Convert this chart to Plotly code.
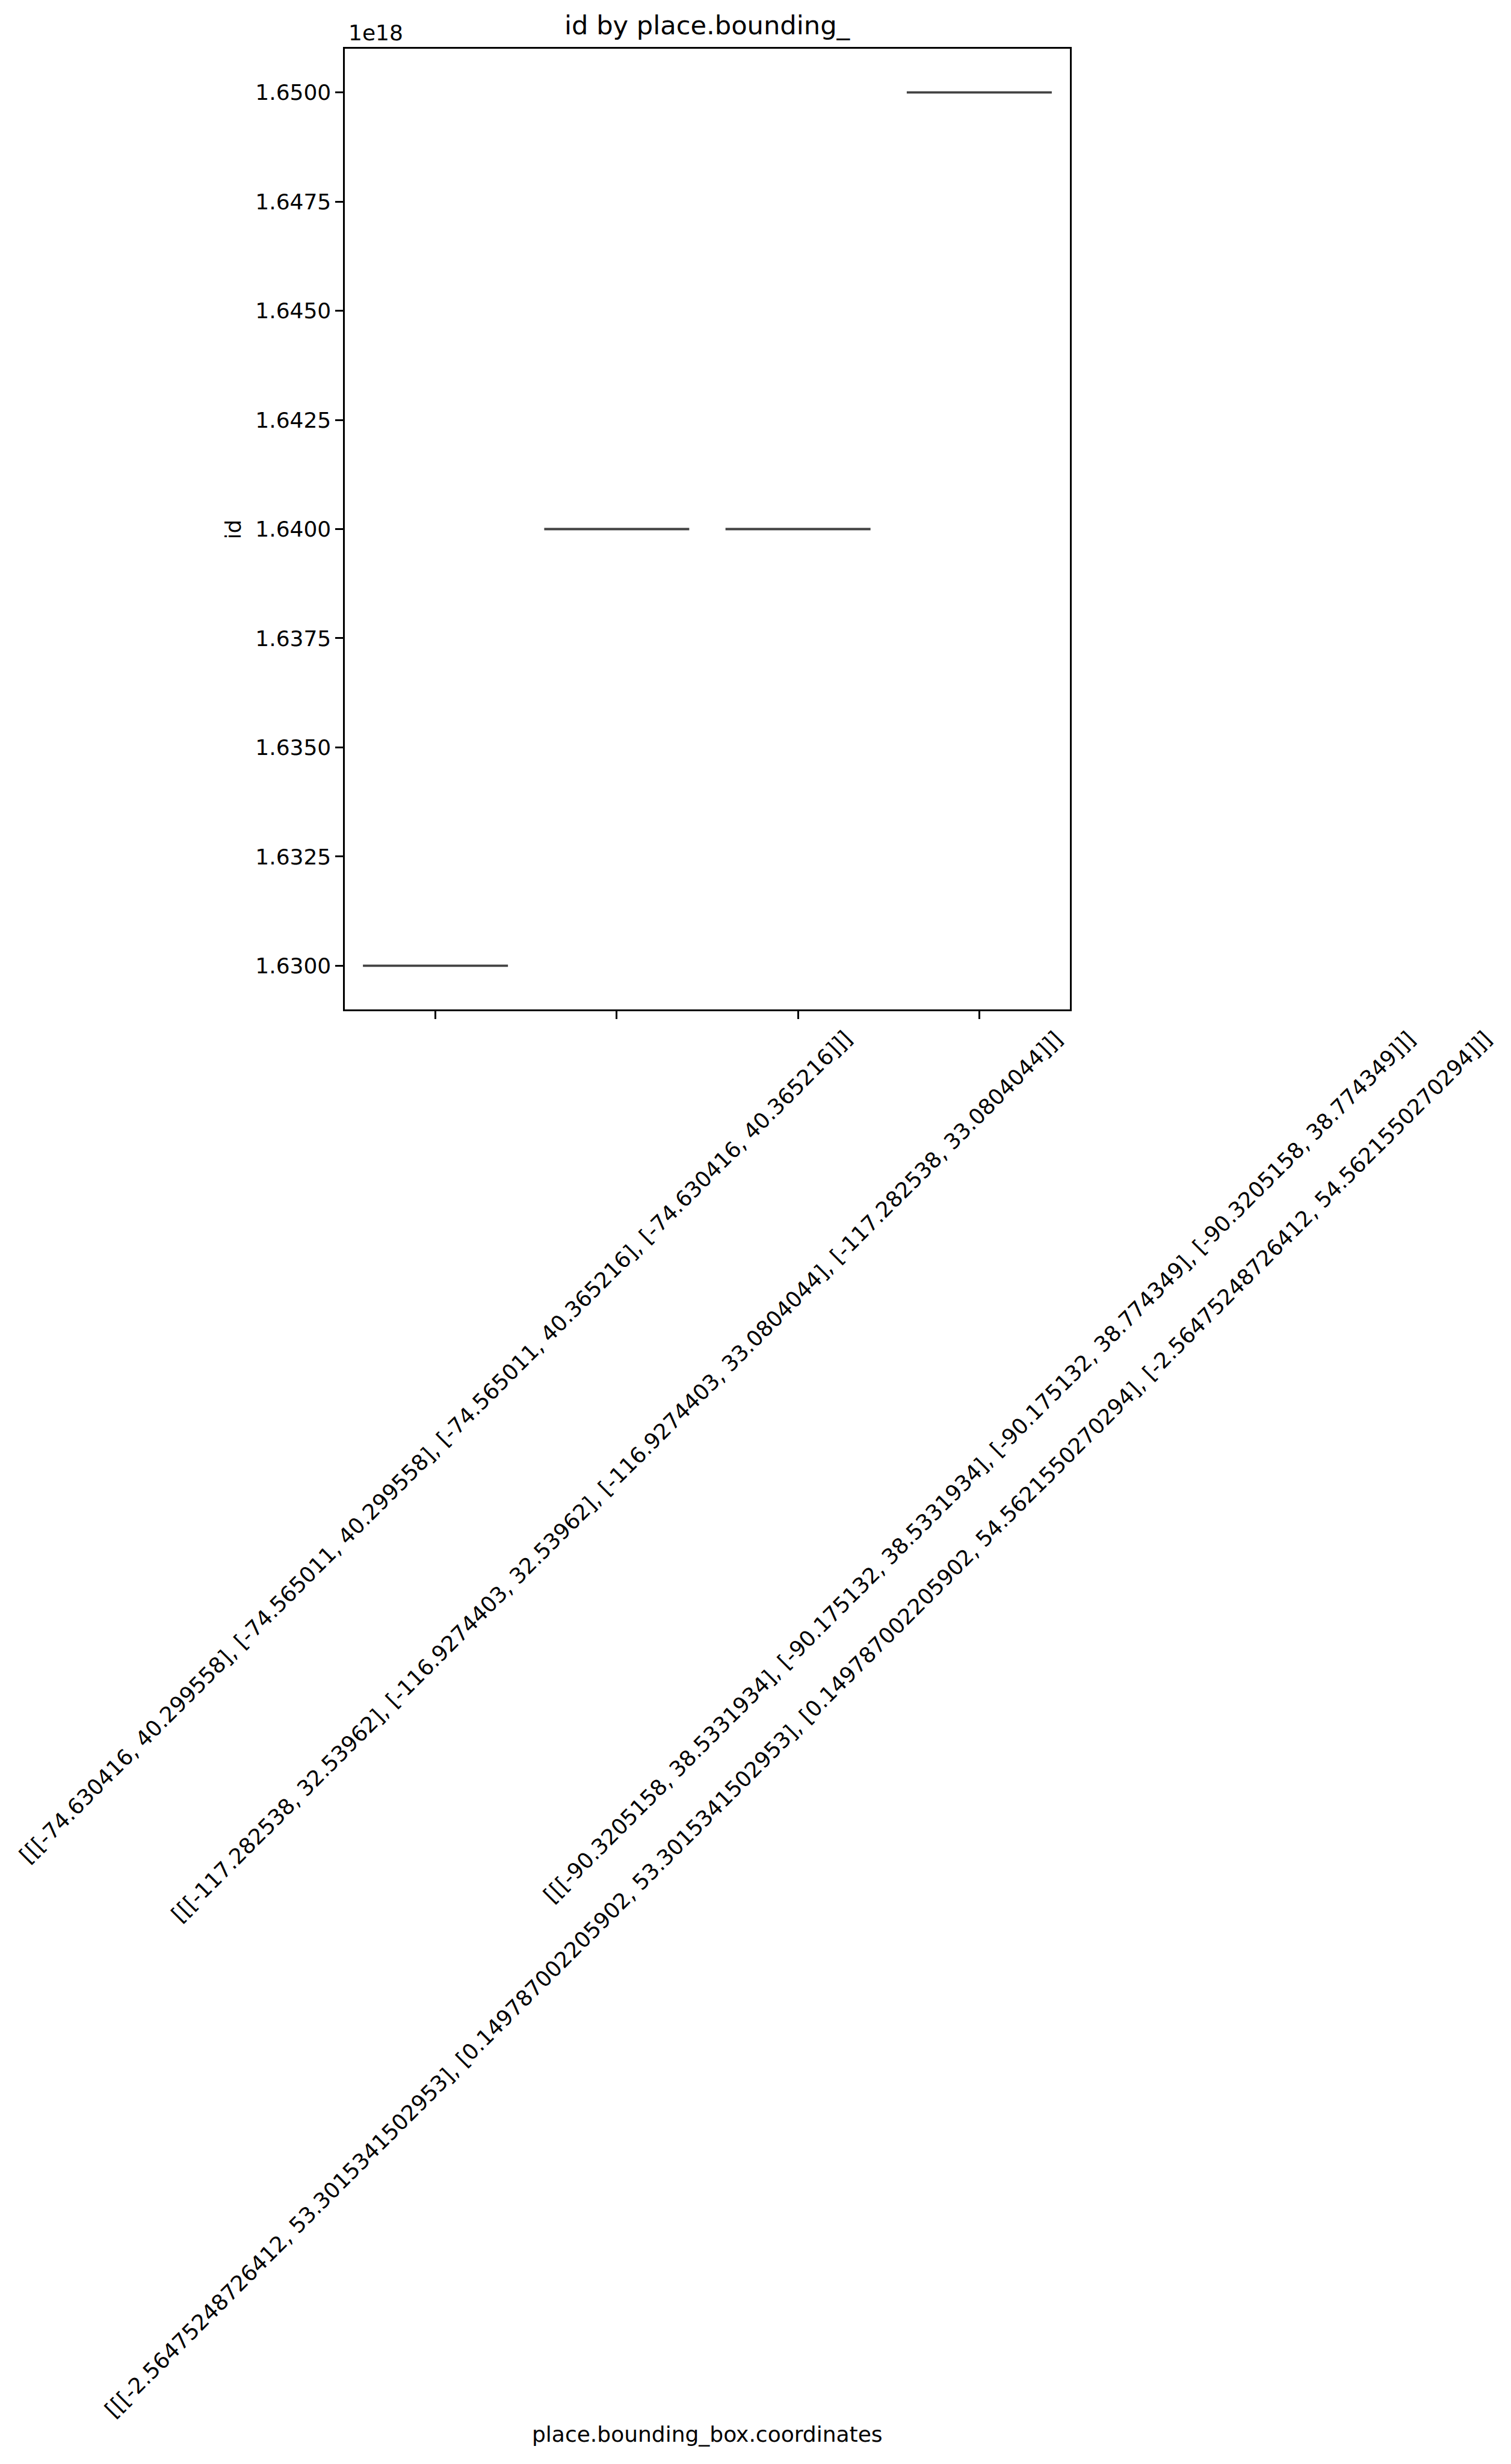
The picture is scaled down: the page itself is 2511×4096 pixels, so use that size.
import plotly.graph_objects as go

# ---- data ----
categories = [
    "[[[-74.630416, 40.299558], [-74.565011, 40.299558], [-74.565011, 40.365216], [-74.630416, 40.365216]]]",
    "[[[-117.282538, 32.53962], [-116.9274403, 32.53962], [-116.9274403, 33.0804044], [-117.282538, 33.0804044]]]",
    "[[[-2.56475248726412, 53.3015341502953], [0.149787002205902, 53.3015341502953], [0.149787002205902, 54.5621550270294], [-2.56475248726412, 54.5621550270294]]]",
    "[[[-90.3205158, 38.5331934], [-90.175132, 38.5331934], [-90.175132, 38.774349], [-90.3205158, 38.774349]]]",
]
id_values = [1.63e18, 1.64e18, 1.64e18, 1.65e18]
y_tick_values = [1.6300, 1.6325, 1.6350, 1.6375, 1.6400, 1.6425, 1.6450, 1.6475, 1.6500]
OFFSET = 1e18

W, H = 2511, 4096
L, R, T, B = 573.1, 1778.4, 80.6, 1677.6
pw, ph = R - L, B - T
FONT = "DejaVu Sans"
TICK_FS = 36
LINE_COLOR = "#424242"

fig = go.Figure()
for i, (cat, v) in enumerate(zip(categories, id_values)):
    fig.add_trace(go.Box(
        x=[i], y=[v / OFFSET],
        width=0.8,
        boxpoints=False,
        line=dict(color=LINE_COLOR, width=3.8),
        fillcolor="rgba(0,0,0,0)",
        whiskerwidth=0,
        showlegend=False,
        hoverinfo="skip",
    ))

fig.update_layout(
    width=W, height=H,
    margin=dict(l=L, r=W - R, t=T, b=H - B, pad=0),
    paper_bgcolor="white", plot_bgcolor="white",
    font=dict(family=FONT, size=TICK_FS, color="black"),
    showlegend=False,
)
fig.update_xaxes(
    range=[-0.5, 3.5], tickmode="array", tickvals=list(range(len(categories))),
    showticklabels=False, ticks="outside", ticklen=12.6, tickwidth=2.9, tickcolor="black",
    showline=True, linecolor="black", linewidth=2.9, mirror=True,
    showgrid=False, zeroline=False,
)
fig.update_yaxes(
    range=[1.629, 1.651], tickmode="array", tickvals=y_tick_values,
    ticktext=[f"{v:.4f}" for v in y_tick_values],
    ticks="outside", ticklen=12.6, tickwidth=2.9, tickcolor="black",
    showline=True, linecolor="black", linewidth=2.9, mirror=True,
    showgrid=False, zeroline=False,
    tickfont=dict(family=FONT, size=TICK_FS, color="black"),
)

def py(pix):
    # pixel y (from top) -> paper y
    return (B - pix) / ph

def px(pix):
    return (pix - L) / pw

anns = []
# title
anns.append(dict(text="id by place.bounding_", xref="paper", yref="paper",
                 x=0.5, y=py(58.5), xanchor="center", yanchor="bottom",
                 yshift=-10, showarrow=False, font=dict(family=FONT, size=43.2, color="black")))
# offset text
anns.append(dict(text="1e18", xref="paper", yref="paper", x=px(577), y=py(69), xanchor="left",
                 yanchor="bottom", yshift=-8, showarrow=False,
                 font=dict(family=FONT, size=TICK_FS, color="black")))
# y label
anns.append(dict(text="id", xref="paper", yref="paper", x=px(388), y=0.5, xanchor="center",
                 yanchor="middle", textangle=-90, showarrow=False,
                 font=dict(family=FONT, size=TICK_FS, color="black")))
# x label
anns.append(dict(text="place.bounding_box.coordinates", xref="paper", yref="paper", x=0.5,
                 y=py(4060), xanchor="center", yanchor="bottom", yshift=-9, showarrow=False,
                 font=dict(family=FONT, size=TICK_FS, color="black")))
# category tick labels (rotated, centered at tick)
for i, cat in enumerate(categories):
    anns.append(dict(text=cat, xref="x", yref="paper", x=i, y=py(B + 25),
                     xanchor="center", yanchor="top", textangle=-45, showarrow=False,
                     font=dict(family=FONT, size=TICK_FS, color="black")))
fig.update_layout(annotations=anns)

fig.write_html("out.html")
